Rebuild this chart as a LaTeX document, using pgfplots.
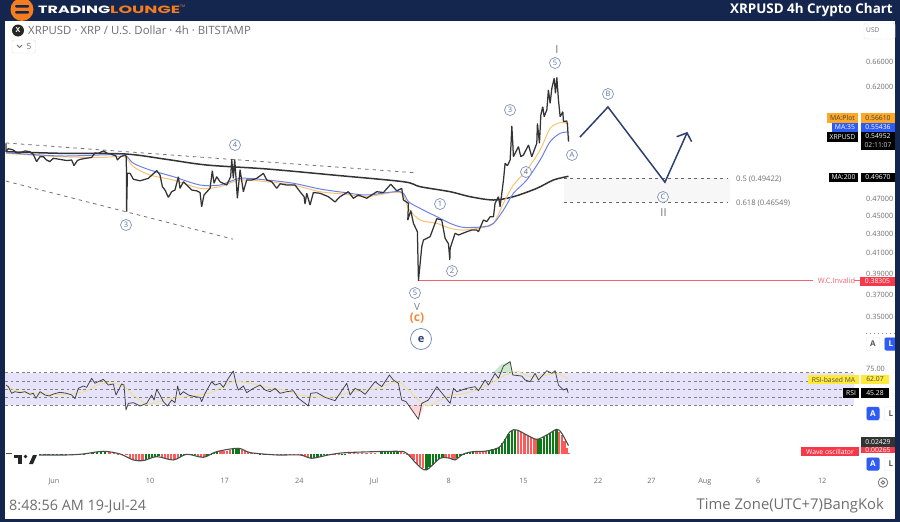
\documentclass[border=0pt]{standalone}
\usepackage{fontspec}
\usepackage{pgfplots}
\pgfplotsset{compat=1.18}
\setmainfont{Open Sans}
\newfontfamily\logofont{Poppins}
\definecolor{navy}{HTML}{15264E}
\definecolor{logoor}{HTML}{F57C1F}
\definecolor{txg}{HTML}{6E6E6E}
\definecolor{wl}{HTML}{7F92BC}
\definecolor{wlt}{HTML}{5E729E}
\definecolor{arrowc}{HTML}{2D416E}
\definecolor{maor}{HTML}{FBC272}
\definecolor{mabl}{HTML}{6E82E6}
\definecolor{band}{HTML}{E6E3FA}
\definecolor{rsima}{HTML}{F0E08C}
\definecolor{tagor}{HTML}{FFA726}
\definecolor{tagbl}{HTML}{2F5BF5}
\definecolor{tagred}{HTML}{F5394A}
\definecolor{tagye}{HTML}{FFE93B}
\definecolor{hgreen}{HTML}{0B7A16}
\definecolor{hred}{HTML}{FF5A5A}
\newcommand\fs[1]{\fontsize{#1}{#1}\selectfont}
\newcommand\wave[3]{\node[circle,draw=wl,line width=.7pt,fill=white,fill opacity=.6,text opacity=1,text=wlt,inner sep=0pt,minimum size=11pt,font=\fs{7.5}] at (#1pt,-#2pt) {#3};}
\newcommand\tagbox[7]{\fill[#5] (#1pt,-#2pt) rectangle (#3pt,-#4pt);\node[text=#6,font=\fs{6.8},inner sep=0pt] at ({(#1+#3)/2*1pt},{-(#2+#4)/2*1pt}) {#7};}
\pgfplotsset{
 base/.style={scale only axis,width=857pt,xmin=-4.59,xmax=75.73,
  axis line style={draw=none},tick style={draw=none},clip=true,
  yticklabel pos=right,
  yticklabel style={text=txg,font=\fs{7.3},anchor=west,inner sep=0pt,xshift=4pt},
  xticklabel style={text=txg,font=\fs{7.3}},
  xtick=\empty}
}
\begin{document}
\begin{tikzpicture}
\path[use as bounding box] (0pt,0pt) rectangle (900pt,-522pt);
% frame
\fill[navy] (0pt,0pt) rectangle (900pt,-522pt);
\fill[white] (5pt,-20.5pt) rectangle (895pt,-519pt);
% price panel
\begin{axis}[base,at={(5pt,-20pt)},anchor=north west,height=315pt,
  ymode=log,ymin=0.3347,ymax=0.7327,
  ytick={0.35,0.37,0.39,0.41,0.43,0.45,0.47,0.62,0.66},
  yticklabels={0.35000,0.37000,0.39000,0.41000,0.43000,0.45000,0.47000,0.62000,0.66000}]
% fib zone
\addplot[draw=none,fill=black!3] coordinates {(47.8,0.49422)(63.4,0.49422)(63.4,0.46549)(47.8,0.46549)} -- cycle;
\addplot[dash pattern=on 3pt off 3.5pt,black!60,line width=.7pt] coordinates {(47.8,0.49422)(63.07,0.49422)};
\addplot[dash pattern=on 3pt off 3.5pt,black!60,line width=.7pt] coordinates {(47.8,0.46549)(63.07,0.46549)};
% trendlines
\addplot[dash pattern=on 3.5pt off 4pt,black!55,line width=.8pt] coordinates {(-4.5,0.5396)(34.0,0.5009)};
\addplot[dash pattern=on 3.5pt off 4pt,black!55,line width=.8pt] coordinates {(-4.5,0.4908)(16.78,0.4248)};
% invalidation
\addplot[tagred!80,line width=.8pt] coordinates {(34.1,0.38305)(71.1,0.38305)};
\addplot[tagred!80,line width=.8pt] coordinates {(75,0.38305)(75.7,0.38305)};
% MA200
\addplot[black!80,line width=1.5pt,smooth] coordinates {(-4.5,.5280)(.56,.5259)(6.66,.5250)(10.56,.5180)(14.31,.5108)(19.94,.5058)(26.19,.4982)(32.75,.4900)(34.31,.4840)(37.13,.4780)(39,.4721)(41.19,.4682)(43.06,.4721)(45.25,.4820)(46.81,.4921)(48.22,.4967)};
% MA plot (orange)
\addplot[maor,line width=1pt,smooth] coordinates {(-4.5,.5259)(.56,.5215)(4.31,.5205)(6.56,.5215)(7.44,.5087)(9,.4982)(11.19,.4921)(13.69,.4820)(15.56,.4840)(17.44,.4921)(19.94,.4900)(22.44,.4860)(24.94,.4780)(27.13,.4752)(29.31,.4721)(32.44,.4772)(33.22,.4586)(34.31,.4455)(35.88,.4418)(37.13,.4364)(38.38,.4345)(40.25,.4374)(41.19,.4418)(42.13,.4644)(43.06,.4860)(44.31,.5045)(45.56,.5302)(46.5,.5596)(47.44,.5675)(48.22,.5661)};
% MA35 (blue)
\addplot[mabl,line width=1pt,smooth] coordinates {(-4.5,.5265)(.56,.5224)(4.31,.5237)(6.56,.5237)(7.44,.5130)(9,.5045)(11.19,.4962)(13.69,.4860)(15.56,.4860)(17.44,.4941)(19.94,.4921)(22.44,.4881)(24.94,.4812)(27.13,.4772)(29.31,.4741)(32.44,.4780)(33.22,.4663)(34.31,.4586)(35.88,.4492)(37.13,.4418)(38.38,.4374)(40.25,.4381)(41.19,.4418)(42.13,.4567)(43.06,.4761)(44.31,.4921)(45.56,.5172)(46.5,.5413)(47.44,.5527)(48.22,.5544)};
% price
\addplot[black!80,line width=1.25pt,line join=bevel] coordinates {
(-4.5,.5391)(-4.5,.5280)(-4.28,.5320)(-3.81,.5302)(-3.5,.5268)(-3.19,.5263)(-2.72,.5290)(-2.25,.5280)(-1.94,.5245)(-1.63,.5151)(-1.31,.5215)(-1,.5215)(-.69,.5172)(-.38,.5151)(-.06,.5194)(.56,.5180)(1.19,.5165)(1.66,.5172)(1.88,.5100)(2.19,.5165)(2.44,.5180)(3,.5194)(3.53,.5205)(3.84,.5263)(4.16,.5259)(4.63,.5290)(5,.5259)(5.41,.5245)(5.81,.5224)(5.94,.5172)(6.25,.5215)(6.66,.5237)(6.78,.5215)(6.81,.4548)(6.88,.5004)(7.13,.5004)(7.44,.4930)(8.06,.4911)(8.84,.4941)(9.63,.5037)(9.94,.4982)(10.16,.4840)(10.41,.4800)(10.72,.4713)(11.03,.4780)(11.34,.4800)(11.66,.4962)(11.81,.4820)(12.13,.4900)(12.44,.4860)(12.91,.4800)(13.38,.4790)(13.69,.4770)(13.84,.4605)(14.06,.4741)(14.63,.4820)(14.84,.5037)(15,.4881)(15.25,.4962)(15.56,.4900)(16.19,.4860)(16.56,.4962)(16.66,.5180)(16.81,.4941)(16.94,.5180)(17.19,.4702)(17.44,.5050)(17.75,.4780)(18.06,.4921)(18.53,.4921)(19,.4941)(19.63,.5004)(19.94,.4921)(20.41,.4900)(20.88,.4820)(21.19,.4875)(21.81,.4860)(22.59,.4860)(23.06,.4780)(23.44,.4721)(23.53,.4636)(23.69,.4761)(24,.4625)(24.31,.4770)(24.94,.4761)(25.72,.4721)(26.34,.4660)(26.81,.4721)(27.59,.4780)(28.06,.4702)(28.53,.4741)(29.31,.4702)(30.25,.4780)(30.88,.4770)(31.56,.4870)(32.13,.4790)(32.59,.4820)(32.75,.4682)(33.22,.4644)(33.16,.4455)(33.44,.4560)(33.69,.4418)(34.06,.4327)(34.16,.3831)(34.38,.4067)(34.47,.4169)(34.63,.4239)(35.25,.4274)(35.88,.4470)(36.34,.4455)(36.66,.4256)(36.97,.4200)(37.1,.4036)(37.13,.4152)(37.59,.4310)(37.91,.4292)(38.69,.4327)(39.16,.4345)(39.63,.4345)(39.78,.4327)(40.25,.4455)(40.56,.4437)(40.88,.4492)(41.19,.4492)(41.34,.4644)(41.66,.4721)(41.81,.4605)(42.13,.4921)(42.28,.5130)(42.5,.5100)(42.75,.5172)(42.84,.5391)(42.91,.5629)(43,.5391)(43.06,.5215)(43.53,.5347)(43.75,.5215)(44,.5237)(44.47,.5369)(44.78,.5215)(45.25,.5391)(45.31,.5666)(45.5,.5391)(45.63,.5785)(45.81,.5906)(45.94,.5761)(46.19,.5858)(46.34,.6156)(46.5,.5955)(46.66,.6181)(46.88,.6337)(47,.6105)(47.13,.6350)(47.28,.6005)(47.44,.5761)(47.69,.5832)(47.75,.5690)(48.06,.5700)(48.13,.5640)(48.22,.5413)(48.22,.5495)};
% projected path
\addplot[arrowc,line width=1.5pt,line join=miter] coordinates {(49.3,.5476)(51.92,.5901)(57.26,.4894)(59.33,.5533)};
\addplot[arrowc,line width=1.5pt,line join=miter] coordinates {(58.36,.5480)(59.33,.5533)(59.76,.5414)};
\end{axis}
% RSI panel
\begin{axis}[base,at={(5pt,-360pt)},anchor=north west,height=65pt,
  ymin=5.56,ymax=85.8,ytick={75},yticklabels={75.00}]
\addplot[draw=none,fill=band] coordinates {(-4.59,70)(75.0,70)(75.0,30)(-4.59,30)} -- cycle;
\addplot[draw=none,fill=green!55!black,fill opacity=.2] coordinates {(41.1,70)(41.9,80)(42.75,83.7)(43,70)} -- cycle;
\addplot[draw=none,fill=hred,fill opacity=.25] coordinates {(33.2,30)(34.16,12.6)(34.7,30)} -- cycle;
\foreach \l in {30,40,50,60,70}{
 \edef\tmp{\noexpand\addplot[dash pattern=on 2.8pt off 2.8pt,black!50,line width=.65pt] coordinates {(-4.59,\l)(75.0,\l)};}\tmp
}
\addplot[rsima,line width=.9pt,smooth] coordinates {(-4.5,53.7)(-3.19,46.7)(-1.63,44.7)(-.06,43.4)(1.66,43.8)(3.06,47.9)(4.31,56.2)(5.56,57)(6.5,53.7)(7.44,42.6)(8.69,31.5)(9.78,34.4)(11.19,38.5)(13.69,42.6)(14.94,46.7)(16.81,59.1)(18.69,56.2)(19.94,52.1)(21.81,47.9)(23.06,42.6)(24.94,39.7)(26.19,40.5)(28.06,46.7)(30.25,50.8)(32.13,59.1)(33.06,50.8)(34.16,36.4)(35.09,29)(36.19,36.4)(37.13,42.6)(38.06,43.4)(39.63,48.8)(41.19,59.1)(42.28,67.3)(43.53,71.4)(44.63,65.2)(46.19,67.3)(47.13,69.3)(48.25,62.07)};
\addplot[black!75,line width=.75pt,line join=round] coordinates {
(-4.5,54.9)(-4.28,52.9)(-3.97,44.7)(-3.66,46.7)(-3.19,45.5)(-2.72,46.7)(-2.25,43.4)(-1.94,44.7)(-1.69,38.5)(-1.31,46.7)(-.84,42.6)(-.44,41.4)(-.06,43.8)(.56,45.9)(1.19,44.7)(1.66,42.6)(1.97,38)(2.28,50.8)(2.75,53.7)(3.06,52.1)(3.53,63.2)(3.84,57)(4.16,59.1)(4.63,61.9)(5.09,54.9)(5.56,56.2)(5.81,42.6)(6.34,56.2)(6.56,54.9)(6.75,24.1)(6.97,32.3)(7.44,33.1)(8.06,29)(8.69,32.3)(9.16,42.6)(9.38,36.4)(9.63,49.6)(9.94,42.6)(10.25,34.4)(10.63,29)(11.03,36.4)(11.34,33.1)(11.59,53.7)(11.81,42.6)(12.13,46.7)(12.59,42.6)(13.22,40.5)(13.69,39.7)(13.84,34.4)(14.16,44.7)(14.78,59.1)(15.09,54.9)(15.56,57)(15.88,52.1)(16.34,63.2)(16.81,72.2)(17.06,57)(17.28,48.8)(17.75,53.7)(18.06,45.5)(18.69,50.8)(19.31,54.9)(19.78,48.8)(20.25,46.7)(20.72,50.8)(21.19,44.7)(21.81,46.7)(22.44,47.9)(22.91,38.5)(23.53,32.3)(23.84,29)(24.06,44.7)(24.63,45.5)(25.41,39.7)(26.34,35.6)(26.81,44.7)(27.44,57)(27.75,42.6)(28.22,50.8)(28.84,46.7)(29.16,43.4)(30.09,59.1)(30.72,52.9)(31.44,67.3)(31.81,61.1)(32.28,57)(32.59,36.4)(33,34.4)(33.44,26.1)(34.16,12.6)(34.47,32.3)(35.09,36.4)(35.88,52.9)(36.5,42.6)(37.13,32.3)(37.44,50.8)(37.75,46.7)(38.69,50.8)(39.47,52.9)(39.78,47.9)(40.41,61.1)(40.72,54.9)(41.34,69.3)(41.66,63.2)(42.13,78.4)(42.75,83.7)(43,67.3)(43.84,66)(44.16,61.1)(44.63,59.1)(45.09,69.3)(45.41,61.1)(46.19,72.6)(46.66,69.3)(46.97,72.6)(47.28,54.9)(47.75,48.8)(48.06,50.8)(48.19,45.28)};
\end{axis}
% Wave panel
\begin{axis}[base,at={(5pt,-425pt)},anchor=north west,height=48pt,
  ymin=-0.0511,ymax=0.08,ytick=\empty,
  xtick={0,9,16,23,30,37,44,51,56,61,66,72},
  xticklabels={Jun,10,17,24,Jul,8,15,22,27,Aug,6,12},
  xticklabel style={yshift=-1.5pt}]
\addplot[ycomb,hgreen,line width=2.3pt,forget plot] coordinates {(-1.3,.002)(-.9,.002)(-.5,.002)(-.1,.002)(.3,.002)(.7,.002)(1.1,.002)(2.8,.002)(3.2,.003)(3.6,.005)(4,.007)(4.4,.008)(4.8,.008)(8.6,-.016)(8.9,-.013)(9.2,-.010)(9.5,-.007)(9.8,-.006)(11.9,-.007)(12.2,-.003)(12.5,-.001)(12.9,-.001)(13.2,-.002)(14.4,-.006)(14.7,-.002)(15,.003)(15.3,.007)(16.8,.015)(17.1,.016)(17.3,.016)(18.9,.003)(19.3,.002)(19.7,.002)(20.1,.001)(24.1,-.010)(24.4,-.009)(24.7,-.007)(25,-.005)(25.3,-.003)(25.6,-.002)(27,.001)(27.3,.002)(30.7,.005)(31,.006)(31.3,.007)(31.6,.007)(31.9,.008)(32.2,.008)(34.9,-.042)(35.2,-.036)(35.5,-.028)(35.8,-.021)(36.1,-.014)(36.4,-.010)(37.8,-.010)(38.1,-.004)(38.4,.001)(38.7,.004)(39,.006)(39.3,.007)(40.8,.011)(41.1,.014)(41.4,.017)(41.7,.021)(42,.03)(42.3,.042)(42.6,.055)(42.9,.063)(43.2,.066)(45.35,.041)(45.6,.043)(45.9,.048)(46.2,.052)(46.5,.058)(46.8,.064)(47.1,.068)};
\addplot[ycomb,hred,line width=2.3pt,forget plot] coordinates {(1.5,-.001)(1.9,-.001)(2.3,-.001)(5.2,.006)(5.6,.004)(6,.002)(6.4,.001)(6.8,-.003)(7.1,-.01)(7.4,-.015)(7.7,-.016)(8,-.017)(8.3,-.017)(10.1,-.008)(10.4,-.010)(10.7,-.013)(11,-.015)(11.3,-.015)(11.6,-.011)(13.5,-.005)(13.8,-.007)(14.1,-.008)(15.6,.008)(15.9,.009)(16.2,.010)(16.5,.012)(17.6,.013)(17.9,.010)(18.2,.006)(18.5,.004)(20.5,-.001)(20.9,-.002)(21.3,-.002)(21.7,-.002)(22.1,-.002)(22.5,-.002)(22.9,-.002)(23.2,-.003)(23.5,-.006)(23.8,-.009)(25.9,-.001)(26.3,-.001)(26.7,-.001)(27.7,.004)(28.1,.004)(28.5,.004)(28.9,.004)(29.3,.004)(29.7,.003)(30.1,.003)(32.5,.006)(32.8,.004)(33.1,.002)(33.4,-.008)(33.7,-.016)(34,-.026)(34.3,-.032)(34.6,-.038)(36.7,-.010)(37,-.011)(37.3,-.014)(37.55,-.015)(39.6,.007)(39.9,.007)(40.2,.008)(40.5,.009)(43.5,.064)(43.8,.06)(44.1,.056)(44.4,.051)(44.7,.047)(45,.043)(45.2,.041)(47.35,.062)(47.6,.052)(47.85,.035)(48.05,.018)(48.22,.003)};
\addplot[black!70,line width=1.1pt,smooth] coordinates {(-1.38,-.0018)(1.19,-.0018)(2.75,.0009)(4.63,.0082)(6.19,.0009)(7.44,-.0155)(8.38,-.0173)(9.63,-.0064)(11.19,-.0155)(12.44,0)(14,-.0082)(15.25,.0073)(17.28,.0164)(18.38,.0046)(20.88,-.0018)(23.06,-.0018)(24.16,-.0109)(25.72,-.0018)(27.44,.0046)(32.13,.0082)(33.06,.0027)(34,-.0264)(34.88,-.0428)(36.19,-.0109)(37.13,-.0109)(37.59,-.0155)(38.38,.0009)(39.31,.0073)(40.56,.0091)(41.81,.0209)(42.75,.0619)(43.38,.0665)(44.31,.0528)(45.25,.041)(46.19,.0528)(47.13,.0683)(47.59,.0574)(48.22,.0237)};
\addplot[black!70,line width=1.1pt] coordinates {(-4.5,.0027)(-3.97,.0027)};
\end{axis}
% header
\fill[logoor] (22pt,-9.5pt) circle (11.5pt);
\fill[navy,rounded corners=1pt] (15pt,-5pt) rectangle (29pt,-7.5pt);
\fill[navy,rounded corners=1pt] (15pt,-11pt) rectangle (29pt,-13.5pt);
\node[anchor=west,inner sep=0pt] at (38pt,-9.5pt) {\resizebox{72pt}{7.5pt}{\logofont\bfseries\color{white}TRADING}};
\node[anchor=west,inner sep=0pt] at (110pt,-9.5pt) {\resizebox{70pt}{7.5pt}{\logofont\bfseries\color{logoor}LOUNGE}};
\node[anchor=west,inner sep=0pt,text=logoor,font=\fs{3.5}] at (180pt,-6pt) {TM};
\node[anchor=east,inner sep=0pt,text=white,font=\fs{13.4}\bfseries] at (893pt,-10.5pt) {XRPUSD 4h Crypto Chart};
% symbol line
\fill[black!85] (18pt,-30.5pt) circle (6pt);
\node[text=white,font=\fs{7}\bfseries,inner sep=0pt] at (18pt,-30.5pt) {X};
\node[anchor=west,inner sep=0pt,text=txg,font=\fs{11.4}] at (28pt,-30.5pt) {XRPUSD · XRP / U.S. Dollar · 4h · BITSTAMP};
\draw[black!12,rounded corners=1.5pt,fill=white] (12pt,-40pt) rectangle (35.5pt,-53pt);
\draw[txg,line width=.8pt] (17pt,-45pt) -- (19.5pt,-47.5pt) -- (22pt,-45pt);
\node[inner sep=0pt,text=txg,font=\fs{8.5}] at (29pt,-46.5pt) {5};
\draw[black!10,rounded corners=1.5pt,fill=white] (864pt,-23pt) rectangle (895pt,-39pt);
\node[anchor=west,inner sep=0pt,text=txg,font=\fs{6.6}] at (866pt,-30.5pt) {USD};
% wave counts
\node[text=black!55,font=\fs{11},inner sep=0pt] at (557pt,-50pt) {I};
\wave{555}{63}{5}\wave{510}{110}{3}\wave{526}{172}{4}\wave{572}{155}{A}\wave{608}{94}{B}\wave{663}{197}{C}
\node[text=black!55,font=\fs{11},inner sep=0pt] at (663.5pt,-213pt) {II};
\wave{126}{225}{3}\wave{235}{145}{4}\wave{440}{204}{1}\wave{452}{271}{2}\wave{415}{293}{5}
\node[text=black!50,font=\fs{10},inner sep=0pt] at (417pt,-307pt) {V};
\node[text=logoor!90,font=\fs{12}\bfseries,inner sep=0pt] at (417pt,-318pt) {(c)};
\node[circle,draw=wl,line width=.8pt,text=arrowc,inner sep=0pt,minimum size=21pt,font=\fs{11}\bfseries] at (421pt,-339pt) {e};
% fib labels
\node[anchor=west,inner sep=0pt,text=txg,font=\fs{7.6}] at (736pt,-179pt) {0.5 (0.49422)};
\node[anchor=west,inner sep=0pt,text=txg,font=\fs{7.6}] at (736pt,-203pt) {0.618 (0.46549)};
% tags
\tagbox{827}{113}{858}{123}{tagor}{black!75}{MA:Plot}
\tagbox{861}{113}{895}{123}{tagor}{black!75}{0.56610}
\tagbox{832}{123}{858}{132}{tagbl}{white}{MA:35}
\tagbox{861}{123}{895}{132}{tagbl}{white}{0.55436}
\tagbox{827}{132}{858}{141.5}{black}{white}{XRPUSD}
\tagbox{861}{132}{895}{141}{black}{white}{0.54952}
\tagbox{861}{141}{895}{149.5}{black}{black!20}{02:11:07}
\tagbox{829}{173}{858}{182}{black}{white}{MA:200}
\tagbox{861}{173}{895}{182}{black}{white}{0.49670}
\node[text=tagred!80,font=\fs{7.4},inner sep=0pt] at (836.5pt,-281pt) {W.C.Invalid};
\tagbox{860}{277}{895}{286}{tagred}{white}{0.38305}
\draw[black!45,dash pattern=on 1pt off 3pt,line width=.7pt] (866pt,-333.5pt) -- (895pt,-333.5pt);
\tagbox{808}{375}{859}{384}{tagye}{black!70}{RSI-based MA}
\tagbox{861}{375}{889}{384}{tagye}{black!70}{62.07}
\tagbox{843}{388}{859}{398}{black}{white}{RSI}
\tagbox{861}{388}{889}{398}{black}{white}{45.28}
\tagbox{861}{437}{895}{446.5}{black!80}{white}{0.02429}
\tagbox{861}{447}{895}{453}{tagred}{white}{0.00265}
\tagbox{801}{447}{859}{456}{tagred}{white}{Wave oscillator}
% buttons
\foreach \bx/\by/\bc/\tc/\tt in {873/344/white/black!65/A,891/344/tagbl/white/L,873/413.5/tagbl/white/A,891/413.5/white/black!65/L,873/464/tagbl/white/A,891/464/white/black!65/L}{
 \node[rounded corners=2pt,fill=\bc,draw=black!8,minimum size=13.5pt,inner sep=0pt,text=\tc,font=\fs{8}\bfseries] at (\bx pt,-\by pt) {\tt};
}
\fill[navy] (895pt,-330pt) rectangle (900pt,-522pt);
% tv logo
\fill[white] (12.5pt,-453pt) rectangle (38pt,-466pt);
\fill[black!85] (14pt,-455pt) rectangle (22pt,-458pt);
\fill[black!85] (18pt,-455pt) rectangle (22pt,-464pt);
\fill[black!85] (25.5pt,-456.5pt) circle (1.8pt);
\fill[black!85] (29pt,-464pt) -- (33pt,-455pt) -- (37pt,-455pt) -- (33pt,-464pt) -- cycle;
% eye
\draw[black!55,line width=.8pt] (883pt,-482.5pt) circle (4.8pt);
\draw[black!55,line width=.8pt] (883pt,-482.5pt) circle (1.8pt);
% footer
\node[anchor=west,inner sep=0pt,text=txg,font=\fs{14.4}] at (9pt,-506pt) {8:48:56 AM 19-Jul-24};
\node[anchor=east,inner sep=0pt,text=txg,font=\fs{14.8}] at (884pt,-506pt) {Time Zone(UTC+7)BangKok};
\end{tikzpicture}
\end{document}
